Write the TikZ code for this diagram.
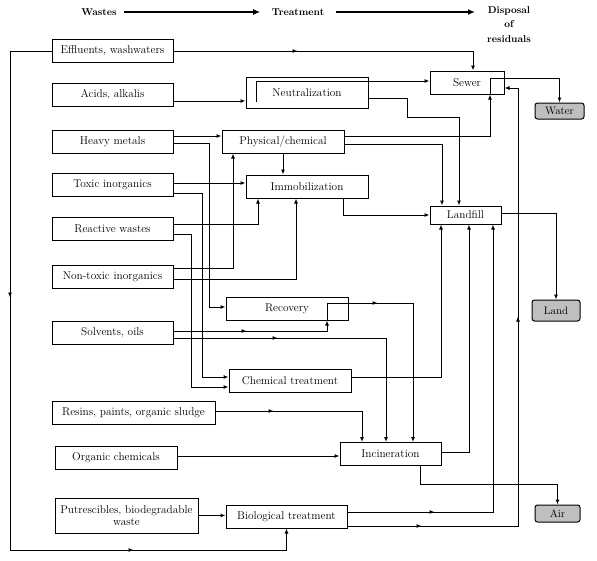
\documentclass[tikz,border=0pt]{standalone}
\usepackage{tikz}
\usetikzlibrary{arrows.meta, decorations.markings, calc}
\definecolor{sinkgray}{HTML}{BFBFBF}

\begin{document}
\begin{tikzpicture}[x=1pt, y=-1pt, >={Latex[length=5pt,width=4pt]},
    every node/.style={font=\fontsize{11.3}{13}\selectfont, align=center},
    box/.style={draw, line width=1pt, inner sep=1pt, minimum height=23pt},
    sink/.style={draw, fill=sinkgray, rounded corners=2.5pt, line width=1pt, inner sep=1pt, font=\fontsize{10.8}{12}\selectfont},
    flow/.style={->, line width=1pt},
    midtip/.style={postaction={decorate, decoration={markings, mark=at position #1 with {\arrow{Latex[length=5pt,width=4pt]}}}}},
    head/.style={font=\fontsize{10}{14.5}\selectfont\bfseries}]
    \useasboundingbox (0,0) rectangle (597,560);

    \node[head] (wastes) at (99,12) {Wastes};
    \node[head] (treat) at (298,12) {Treatment};
    \node[head, anchor=north] (disp) at (509,3) {Disposal\\of\\residuals};
    \draw[-{Latex[length=7pt,width=6pt]}, line width=2pt] ([xshift=4pt]wastes.east) -- ([xshift=-8pt]treat.west);
    \draw[-{Latex[length=7pt,width=6pt]}, line width=2pt] ([xshift=8pt]treat.east) -- (475,12);

    \node[box, minimum width=121pt] (eff) at (112.5,51) {Effluents, washwaters};
    \node[box, minimum width=121pt] (acid) at (112.5,95) {Acids, alkalis};
    \node[box, minimum width=121pt] (hm) at (112.5,142) {Heavy metals};
    \node[box, minimum width=121pt] (tox) at (112.5,185) {Toxic inorganics};
    \node[box, minimum width=121pt] (rw) at (112.5,229) {Reactive wastes};
    \node[box, minimum width=121pt] (nti) at (112.5,276.5) {Non-toxic inorganics};
    \node[box, minimum width=121pt] (sol) at (112.5,332.5) {Solvents, oils};
    \node[box, minimum width=163pt] (res) at (133.5,412.5) {Resins, paints, organic sludge};
    \node[box, minimum width=122pt] (org) at (116,457.5) {Organic chemicals};
    \node[box, minimum width=143pt, minimum height=35pt, font=\fontsize{11.3}{12.5}\selectfont] (put) at (126.5,515.5) {Putrescibles, biodegradable\\waste};

    \node[box, minimum width=122pt, minimum height=31pt] (neut) at (307,92.5) {Neutralization};
    \node[box, minimum width=122pt] (phys) at (283,141.5) {Physical/chemical};
    \node[box, minimum width=122pt] (imm) at (307,186.5) {Immobilization};
    \node[box, minimum width=122pt] (rec) at (287,308.5) {Recovery};
    \node[box, minimum width=122pt] (chem) at (290,381) {Chemical treatment};
    \node[box, minimum width=101pt] (inc) at (390.5,454) {Incineration};
    \node[box, minimum width=121pt] (bio) at (286.5,516.5) {Biological treatment};

    \node[box, minimum width=74pt] (sewer) at (467,82.5) {Sewer};
    \node[box, minimum width=71pt, minimum height=18pt] (landfill) at (465.5,215) {Landfill};
    \node[sink, minimum width=49pt, minimum height=16pt] (water) at (559.5,111) {Water};
    \node[sink, minimum width=48pt, minimum height=21pt] (land) at (556,310.5) {Land};
    \node[sink, minimum width=45pt, minimum height=17pt] (air) at (557.5,513.5) {Air};

    \draw[flow, midtip=124pt] (eff.east) -| ([xshift=6pt]sewer.north);
    \draw[flow, midtip=288pt, midtip=664pt] (eff.west) -| (10,550) -| (bio.south);
    \draw[flow] (acid.east |- 0,101) -- (neut.west |- 0,101);
    \draw[flow] (neut.south west) ++(11,-7) |- (sewer.west |- 0,81);
    \draw[flow] (neut.east |- 0,98) -| (407,117) -| (landfill.north -| 459,0);
    \draw[flow] (phys.east |- 0,136) -| (sewer.south -| 490,0);
    \draw[flow] (sewer.south -| 490,0) |- (water.north |- 0,78) -- (water.north);
    \draw[flow] (phys.east |- 0,144) -| (landfill.north -| 442,0);
    \draw[flow] (phys.south) -- (phys.south |- imm.north);
    \draw[flow] (imm.south -| 343,0) |- (landfill.west);

    \draw[flow] (hm.east |- 0,136) -- (phys.west |- 0,136);
    \draw[flow] (hm.east |- 0,143) -| (209,307) -- (rec.west |- 0,307);
    \draw[flow] (tox.east |- 0,183) -- (imm.west |- 0,183);
    \draw[flow] (tox.east |- 0,193) -| (202,377) -- (chem.west |- 0,377);
    \draw[flow] (rw.east |- 0,224) -| (imm.south -| 258,0);
    \draw[flow] (rw.east |- 0,234) -| (191,387) -- (chem.west |- 0,387);
    \draw[flow] (nti.east |- 0,268) -| (phys.south -| 233,0);
    \draw[flow] (nti.east |- 0,279) -| (imm.south -| 296,0);
    \draw[flow, midtip=73pt] (sol.east |- 0,331) -| (rec.south -| 327,0);
    \draw[flow, midtip=68pt] (rec.south -| 327,0) |- (413,303) -- (inc.north -| 413,0);
    \draw[flow, midtip=104pt] (sol.east |- 0,338) -| (inc.north -| 386,0);
    \draw[flow, midtip=58pt] (res.east |- 0,411) -| (inc.north -| 362,0);
    \draw[flow] (org.east |- 0,456) -- (inc.west |- 0,456);
    \draw[flow] (put.east) -- (put.east -| bio.west);

    \draw[flow] (chem.east |- 0,377) -| (landfill.south -| 441,0);
    \draw[flow] (inc.east |- 0,452) -| (landfill.south -| 469,0);
    \draw[flow, midtip=87pt] (bio.east |- 0,512) -| (landfill.south -| 493,0);
    \draw[flow, midtip=74pt, midtip=380pt] (bio.east |- 0,526) -| (518,88) -- (sewer.east |- 0,88);
    \draw[flow] (landfill.east |- 0,213) -| (land.north);
    \draw[flow] (inc.south -| 420,0) -- (420,484) -| (air.north);
\end{tikzpicture}
\end{document}
